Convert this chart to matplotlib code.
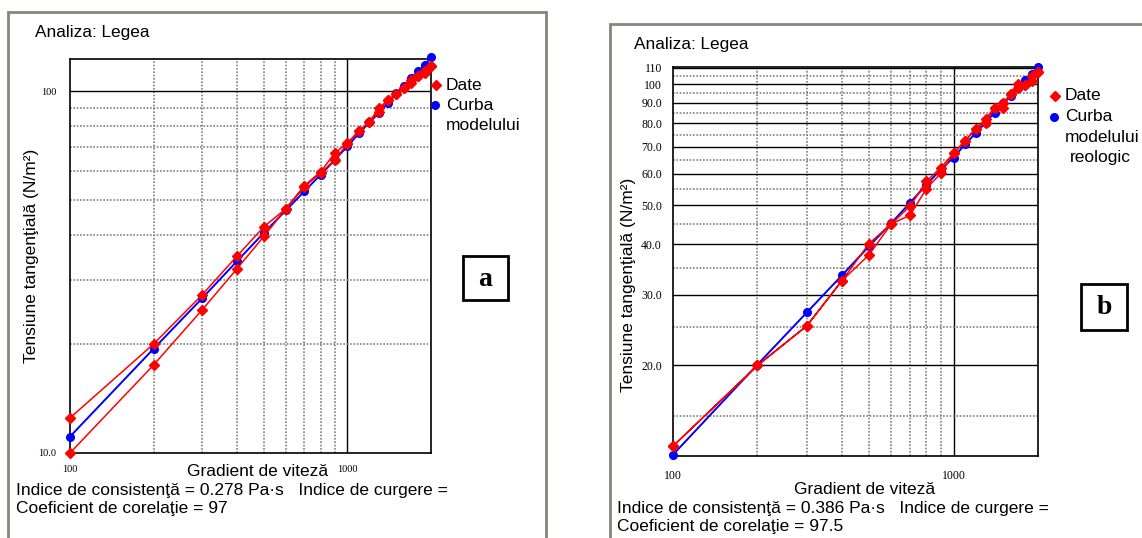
import matplotlib.pyplot as plt
from matplotlib.lines import Line2D
from matplotlib.patches import Rectangle
from matplotlib.ticker import NullLocator

W, H = 1142, 538
plt.rcParams['font.family'] = ['Liberation Sans', 'DejaVu Sans']

# shear rate steps (1/s), run up to 2000 and back down
rate = [100, 200, 300, 400, 500, 600, 700, 800, 900, 1000,
        1100, 1200, 1300, 1400, 1500, 1600, 1700, 1800, 1900, 2000]
rate_down = rate[::-1]

# sample a: measured stress (up / down) and power-law model
a_up = [10.0, 17.5, 24.9, 32.3, 39.7, 47.3, 54.4, 59.4, 64.5, 71.5,
        77.4, 82.2, 87.7, 94.4, 98.1, 101.7, 105.0, 110.0, 111.9, 117.2]
a_down = [117.2, 113.8, 110.0, 107.2, 101.7, 98.1, 94.4, 89.9, 82.3, 77.6,
          71.9, 67.4, 59.8, 54.8, 47.3, 42.2, 35.0, 27.4, 20.0, 12.5]
a_model = [11.1, 19.4, 26.8, 33.9, 40.6, 46.8, 52.9, 58.7, 64.5, 70.4,
           76.4, 81.9, 87.1, 92.5, 98.5, 103.2, 108.8, 113.4, 118.2, 123.9]

# sample b
b_up = [12.6, 20.0, 25.1, 32.5, 37.7, 45.0, 47.3, 55.0, 60.1, 67.4,
        72.4, 77.6, 80.4, 87.6, 87.6, 94.8, 97.7, 99.6, 101.9, 107.3]
b_down = [107.3, 104.8, 99.6, 100.3, 94.8, 90.0, 87.6, 82.0, 77.6, 72.4,
          67.4, 62.1, 57.4, 49.8, 45.0, 40.2, 32.5, 25.1, 20.0, 12.6]
b_model = [12.0, 20.1, 27.1, 33.5, 39.6, 45.2, 50.8, 56.3, 61.4, 65.8,
           71.0, 75.7, 80.4, 85.1, 90.0, 93.6, 97.9, 102.6, 106.2, 110.5]

x_grid = [200, 300, 400, 500, 600, 700, 800, 900]
a_hgrid = [20, 30, 40, 50, 60, 70, 80, 90]
b_major = [20, 30, 40, 50, 60, 70, 80, 90, 100, 110]
b_minor = [15, 25, 35, 45, 55, 65, 75, 85, 95, 105]
b_yticks = [20, 30, 40, 50, 60, 70, 80, 90, 100, 110]
b_ylabels = ['20.0', '30.0', '40.0', '50.0', '60.0', '70.0', '80.0', '90.0', '100', '110']

RED, BLUE = '#ff0000', '#0000ff'
GRID = '#808080'
DOT = (0, (1, 1))
FS = 12.5


def fx(px):
    return px / W


def fy(py):
    return 1 - py / H


def make_axes(left, top, right, bottom):
    return fig.add_axes([fx(left), fy(bottom), (right - left) / W, (bottom - top) / H])


def base(ax, ylim, tsize, xpad, ypad):
    ax.set_xscale('log')
    ax.set_yscale('log')
    ax.set_xlim(100, 2000)
    ax.set_ylim(*ylim)
    for v in x_grid:
        ax.axvline(v, color=GRID, lw=1.2, ls=DOT, zorder=1)
    ax.axvline(1000, color='black', lw=1, zorder=1)
    ax.xaxis.set_minor_locator(NullLocator())
    ax.yaxis.set_minor_locator(NullLocator())
    ax.set_xticks([100, 1000], ['100', '1000'])
    ax.tick_params(length=0, labelsize=tsize)
    ax.tick_params(axis='x', pad=xpad)
    ax.tick_params(axis='y', pad=ypad)
    for lab in ax.get_xticklabels() + ax.get_yticklabels():
        lab.set_family('Liberation Serif')
    for s in ax.spines.values():
        s.set_linewidth(1.2)


def curves(ax, up, down, model):
    ax.plot(rate, model, color=BLUE, lw=1.4, marker='o', ms=5.5, zorder=3, clip_on=False)
    ax.plot(rate + rate_down, up + down, color=RED, lw=1.1, marker='D', ms=5.5,
            zorder=4, clip_on=False)


def legend(x, y, lines, dy):
    fig.add_artist(Line2D([fx(x - 10)], [fy(y)], marker='D', color=RED, ms=5.5,
                          transform=fig.transFigure))
    fig.add_artist(Line2D([fx(x - 11)], [fy(y + dy)], marker='o', color=BLUE, ms=5.5,
                          transform=fig.transFigure))
    for i, (t, off) in enumerate(lines):
        fig.text(fx(x + off), fy(y + i * dy), t, fontsize=FS, va='center')


def label_box(x0, y0, x1, y1, letter):
    fig.add_artist(Rectangle((fx(x0), fy(y1)), (x1 - x0) / W, (y1 - y0) / H,
                             fill=False, lw=2, ec='black', transform=fig.transFigure))
    fig.text(fx((x0 + x1) / 2), fy((y0 + y1) / 2 + 1), letter, fontsize=20,
             fontweight='bold', family='Liberation Serif', ha='center', va='center')


fig = plt.figure(figsize=(W / 100, H / 100), dpi=100)

# outer frames of both panels
fig.add_artist(Rectangle((fx(8), -0.05), (546 - 8) / W, fy(12) + 0.05, fill=False,
                         lw=2, ec='#85857a', transform=fig.transFigure))
fig.add_artist(Rectangle((fx(610), -0.05), (W + 20 - 610) / W, fy(24) + 0.05, fill=False,
                         lw=2, ec='#85857a', transform=fig.transFigure))

# ---- panel a ----
ax = make_axes(70, 58.5, 431, 453)
base(ax, (10, 123), 7.5, 9, 10)
ax.axhline(100, color='black', lw=1, zorder=1)
for v in a_hgrid:
    ax.axhline(v, color=GRID, lw=1.2, ls=DOT, zorder=1)
ax.set_yticks([10, 100], ['10.0', '100'])
curves(ax, a_up, a_down, a_model)

fig.text(fx(35), fy(32), 'Analiza: Legea', fontsize=12.4, va='center')
fig.text(fx(32), fy(256), 'Tensiune tangenţială (N/m²)', fontsize=FS, rotation=90,
         ha='center', va='center')
fig.text(fx(258), fy(472), 'Gradient de viteză', fontsize=FS, ha='center', va='center')
fig.text(fx(16), fy(490), 'Indice de consistenţă = 0.278 Pa·s   Indice de curgere =',
         fontsize=FS, va='center')
fig.text(fx(16), fy(508), 'Coeficient de corelaţie = 97', fontsize=FS, va='center')
legend(446, 85, [('Date', 0), ('Curba', 0), ('modelului', 0)], 20)
label_box(463, 256, 508, 300, 'a')

# ---- panel b ----
ax = make_axes(673, 67.3, 1038, 455.7)
base(ax, (11.93, 110.3), 8.5, 10, 8)
for v in b_major:
    ax.axhline(v, color='black', lw=1, zorder=1)
for v in b_minor:
    ax.axhline(v, color=GRID, lw=1.2, ls=DOT, zorder=1)
ax.set_yticks(b_yticks, b_ylabels)
curves(ax, b_up, b_down, b_model)

fig.text(fx(634), fy(45), 'Analiza: Legea', fontsize=12.4, va='center')
fig.text(fx(628), fy(285), 'Tensiune tangenţială (N/m²)', fontsize=FS, rotation=90,
         ha='center', va='center')
fig.text(fx(865), fy(490), 'Gradient de viteză', fontsize=FS, ha='center', va='center')
fig.text(fx(617), fy(509), 'Indice de consistenţă = 0.386 Pa·s   Indice de curgere =',
         fontsize=FS, va='center')
fig.text(fx(617), fy(527), 'Coeficient de corelaţie = 97.5', fontsize=FS, va='center')
legend(1065, 96, [('Date', 0), ('Curba', 0), ('modelului', 0), ('reologic', 5)], 20.5)
label_box(1081, 284, 1127, 330, 'b')

fig.savefig('out.png', dpi=100)
